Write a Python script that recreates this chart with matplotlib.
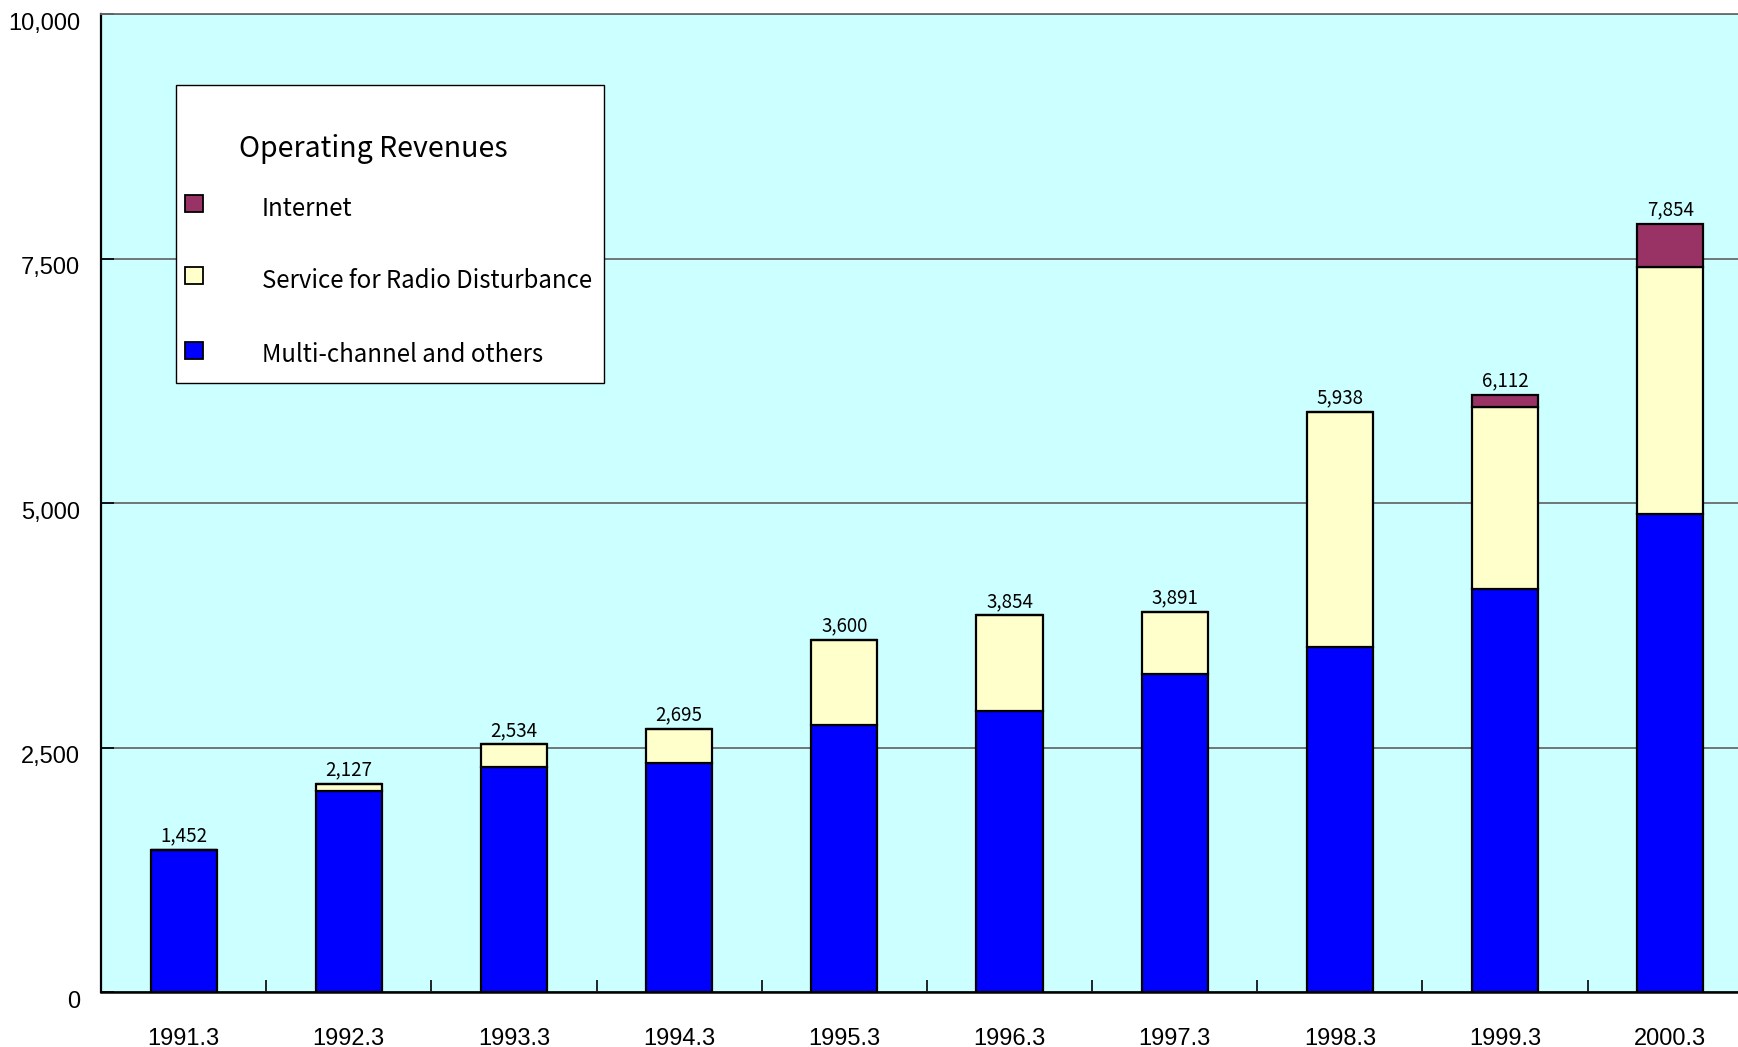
import matplotlib
matplotlib.use('Agg')
import matplotlib.pyplot as plt
import matplotlib.transforms as mtransforms
from matplotlib.patches import Rectangle
from matplotlib.ticker import FuncFormatter, FixedLocator

plt.rcParams['font.family'] = ['Liberation Sans', 'DejaVu Sans']

# Data
years = ['1991.3', '1992.3', '1993.3', '1994.3', '1995.3',
         '1996.3', '1997.3', '1998.3', '1999.3', '2000.3']
multi_channel = [1452, 2059, 2305, 2339, 2728, 2878, 3250, 3532, 4125, 4893]
radio_disturbance = [0, 68, 229, 356, 872, 976, 641, 2406, 1856, 2520]
internet = [0, 0, 0, 0, 0, 0, 0, 0, 131, 441]
totals = [m + r + i for m, r, i in zip(multi_channel, radio_disturbance, internet)]

series_names = ['Internet', 'Service for Radio Disturbance', 'Multi-channel and others']
c_multi = '#0000FF'
c_radio = '#FFFFCC'
c_net = '#993366'
bg = '#CCFFFF'

fig = plt.figure(figsize=(17.38, 10.47), dpi=100)
ax = fig.add_axes([0.0581, 0.0525, 0.9419, 0.9337])
ax.set_facecolor(bg)

x = list(range(len(years)))
w = 0.40
bar_kw = dict(width=w, edgecolor='black', linewidth=1.6, zorder=3)

ax.bar(x, multi_channel, color=c_multi, **bar_kw)
ax.bar(x, radio_disturbance, bottom=multi_channel, color=c_radio, **bar_kw)
bottom2 = [m + r for m, r in zip(multi_channel, radio_disturbance)]
top = ax.bar(x, internet, bottom=bottom2, color=c_net, **bar_kw)

ax.bar_label(top, labels=[f'{t:,}' for t in totals], padding=2.5,
             fontsize=13.5, family=['Noto Sans CJK JP', 'DejaVu Sans'])

ax.set_xlim(-0.5, 9.41)
ax.set_ylim(0, 10000)

# y axis
ax.set_yticks([0, 2500, 5000, 7500, 10000])
ax.yaxis.set_major_formatter(FuncFormatter(lambda v, p: f'{v:,.0f}'))
ax.tick_params(axis='y', direction='in', length=9, width=1.2, pad=15,
               labelsize=17, colors='black')
offset = mtransforms.ScaledTranslation(0, -0.07, fig.dpi_scale_trans)
for lab in ax.get_yticklabels():
    lab.set_transform(lab.get_transform() + offset)
ax.yaxis.grid(True, color='#6a6a6a', linewidth=1.3, zorder=1)
ax.set_axisbelow(True)

# x axis: labels under bars, small ticks between categories
ax.set_xticks(x)
ax.set_xticklabels(years)
ax.tick_params(axis='x', which='major', length=0, pad=26, labelsize=17)
ax.xaxis.set_minor_locator(FixedLocator([i + 0.5 for i in x]))
ax.tick_params(axis='x', which='minor', direction='in', length=9, width=1.2)

ax.spines['left'].set_linewidth(1.6)
ax.spines['bottom'].set_linewidth(1.8)
ax.spines['top'].set_color('#6a6a6a')
ax.spines['top'].set_linewidth(1.3)
ax.spines['right'].set_visible(False)

# legend box drawn in axes coordinates
leg_font = ['Noto Sans CJK JP', 'DejaVu Sans']
ax.add_patch(Rectangle((0.0458, 0.623), 0.2615, 0.3048, transform=ax.transAxes,
                       facecolor='white', edgecolor='black', linewidth=1.0, zorder=5))
ax.text(0.1662, 0.8620, 'Operating Revenues', transform=ax.transAxes,
        ha='center', va='center', fontsize=20.5, family=leg_font, zorder=6)
colors = [c_net, c_radio, c_multi]
text_y = [0.8012, 0.7274, 0.6513]
mark_y = [0.8071, 0.7328, 0.6563]
for name, col, ty, my in zip(series_names, colors, text_y, mark_y):
    ax.add_patch(Rectangle((0.0512, my - 0.0087), 0.011, 0.0174, transform=ax.transAxes,
                           facecolor=col, edgecolor='black', linewidth=1.3, zorder=6))
    ax.text(0.0983, ty, name, transform=ax.transAxes, ha='left', va='center',
            fontsize=17.3, family=leg_font, zorder=6)

fig.savefig('out.png', dpi=100, facecolor='white')
